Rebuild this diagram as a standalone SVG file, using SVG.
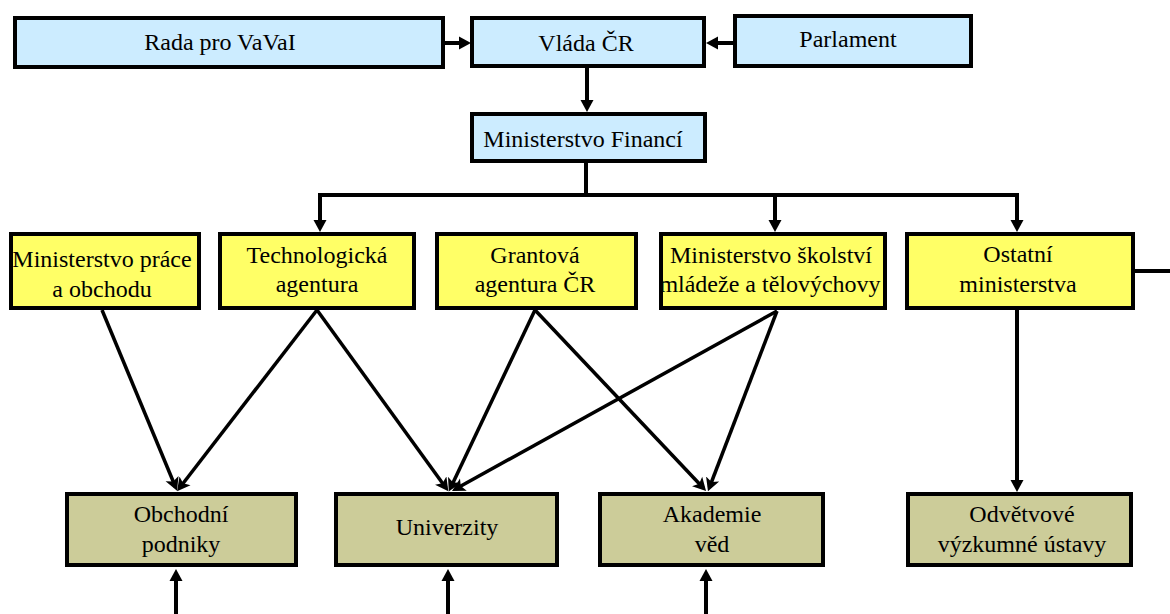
<svg xmlns="http://www.w3.org/2000/svg" width="1170" height="614" viewBox="0 0 1170 614">
<style>
.bx{stroke:#000;stroke-width:4}
.blue{fill:#CCECFF}
.yel{fill:#FFFF66}
.olv{fill:#CCCC99}
.t{font-family:'Liberation Serif','DejaVu Serif','Times New Roman',Times,serif;font-size:24px;fill:#000;text-anchor:middle}
.c{stroke:#000;stroke-width:4;fill:none}
.d{stroke:#000;stroke-width:3.5;fill:none}
</style>
<defs>
<marker id="ah" markerUnits="userSpaceOnUse" markerWidth="14" markerHeight="14" refX="8" refY="7" orient="auto">
<path d="M0,0.5 L12,7 L0,13.5 z" fill="#000"/>
</marker>
<marker id="ad" markerUnits="userSpaceOnUse" markerWidth="16" markerHeight="16" refX="9" refY="8" orient="auto">
<path d="M0,1 L13,8 L0,15 L3,8 z" fill="#000"/>
</marker>
</defs>
<rect width="1170" height="614" fill="#fff"/>
<g id="connectors">
<line class="c" x1="445" y1="43" x2="467" y2="43" marker-end="url(#ah)"/>
<line class="c" x1="733" y1="43" x2="710" y2="43" marker-end="url(#ah)"/>
<line class="c" x1="587" y1="68" x2="587" y2="108" marker-end="url(#ah)"/>
<polyline class="c" points="586,163 586,195"/>
<line class="c" x1="318" y1="195" x2="1019" y2="195"/>
<line class="c" x1="320" y1="195" x2="320" y2="228" marker-end="url(#ah)"/>
<line class="c" x1="775" y1="195" x2="775" y2="228" marker-end="url(#ah)"/>
<line class="c" x1="1017" y1="195" x2="1017" y2="228" marker-end="url(#ah)"/>
<line class="c" x1="1135" y1="271" x2="1170" y2="271"/>
<line class="c" x1="1017" y1="310" x2="1017" y2="488" marker-end="url(#ah)"/>
<line class="d" x1="102" y1="310" x2="175.5" y2="487" marker-end="url(#ad)"/>
<line class="d" x1="317" y1="310" x2="179.5" y2="488" marker-end="url(#ad)"/>
<line class="d" x1="317" y1="310" x2="446" y2="488" marker-end="url(#ad)"/>
<line class="d" x1="535" y1="310" x2="450.5" y2="488" marker-end="url(#ad)"/>
<line class="d" x1="535" y1="310" x2="703.3" y2="488" marker-end="url(#ad)"/>
<line class="d" x1="777" y1="311" x2="455.5" y2="489" marker-end="url(#ad)"/>
<line class="d" x1="777" y1="311" x2="709.4" y2="487.5" marker-end="url(#ad)"/>
<line class="c" x1="176" y1="614" x2="176" y2="573" marker-end="url(#ah)"/>
<line class="c" x1="448" y1="614" x2="448" y2="573" marker-end="url(#ah)"/>
<line class="c" x1="706" y1="614" x2="706" y2="573" marker-end="url(#ah)"/>
</g>
<g id="rada"><rect class="bx blue" x="15" y="18" width="428" height="49"/><text class="t" x="220" y="50">Rada pro VaVaI</text></g>
<g id="vlada"><rect class="bx blue" x="472" y="18" width="232" height="48"/><text class="t" x="586" y="51">Vláda ČR</text></g>
<g id="parlament"><rect class="bx blue" x="735" y="16" width="236" height="50"/><text class="t" x="848" y="47">Parlament</text></g>
<g id="mf"><rect class="bx blue" x="472" y="114" width="233" height="47"/><text class="t" x="583" y="147">Ministerstvo Financí</text></g>
<g id="mpo"><rect class="bx yel" x="11" y="234" width="188" height="74"/><text class="t" x="102" y="267">Ministerstvo práce</text><text class="t" x="102" y="297">a obchodu</text></g>
<g id="ta"><rect class="bx yel" x="220" y="234" width="194" height="74"/><text class="t" x="317" y="263">Technologická</text><text class="t" x="317" y="292">agentura</text></g>
<g id="ga"><rect class="bx yel" x="437" y="234" width="199" height="74"/><text class="t" x="535" y="263">Grantová</text><text class="t" x="535" y="292">agentura ČR</text></g>
<g id="msmt"><rect class="bx yel" x="661" y="234" width="224" height="74"/><text class="t" x="771" y="263">Ministerstvo školství</text><text class="t" x="770" y="292">mládeže a tělovýchovy</text></g>
<g id="ostatni"><rect class="bx yel" x="907" y="234" width="226" height="74"/><text class="t" x="1018" y="262">Ostatní</text><text class="t" x="1018" y="292">ministerstva</text></g>
<g id="podniky"><rect class="bx olv" x="67" y="494" width="229" height="71"/><text class="t" x="181" y="522">Obchodní</text><text class="t" x="181" y="552">podniky</text></g>
<g id="univerzity"><rect class="bx olv" x="336" y="494" width="221" height="71"/><text class="t" x="447" y="535">Univerzity</text></g>
<g id="akademie"><rect class="bx olv" x="600" y="494" width="223" height="71"/><text class="t" x="712" y="522">Akademie</text><text class="t" x="712" y="552">věd</text></g>
<g id="ustavy"><rect class="bx olv" x="908" y="494" width="223" height="71"/><text class="t" x="1022" y="522">Odvětvové</text><text class="t" x="1022" y="552">výzkumné ústavy</text></g>
</svg>
